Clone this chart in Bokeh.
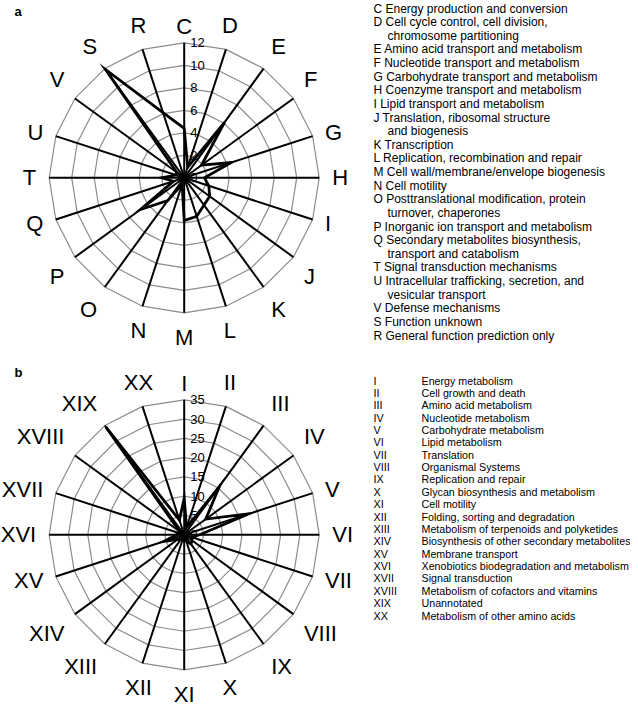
import numpy as np
from bokeh.plotting import figure
from bokeh.models import Range1d
from bokeh.embed import file_html
from bokeh.resources import INLINE
from bokeh.core.properties import value

# ---------------- data: panel a (COG categories) ----------------
cog_codes = ["C", "D", "E", "F", "G", "H", "I", "J", "K", "L",
             "M", "N", "O", "P", "Q", "T", "U", "V", "S", "R"]
cog_values = [4.4, 1.0, 6.1, 1.9, 4.4, 1.8, 2.3, 2.8, 3.0, 3.6,
              3.8, 0.6, 2.5, 4.8, 1.0, 2.0, 0.8, 0.8, 11.9, 6.1]
cog_ticks = [0, 2, 4, 6, 8, 10, 12]
cog_legend_lines = [
    "C  Energy production and conversion",
    "D Cell cycle control, cell division,",
    "chromosome partitioning",
    "E Amino acid transport and metabolism",
    "F Nucleotide transport and metabolism",
    "G Carbohydrate transport and metabolism",
    "H Coenzyme transport and metabolism",
    "I Lipid transport and metabolism",
    "J Translation, ribosomal structure",
    "and biogenesis",
    "K Transcription",
    "L Replication, recombination and repair",
    "M Cell wall/membrane/envelope biogenesis",
    "N  Cell motility",
    "O Posttranslational modification, protein",
    "turnover, chaperones",
    "P Inorganic ion transport and metabolism",
    "Q  Secondary metabolites biosynthesis,",
    "transport and catabolism",
    "T Signal transduction mechanisms",
    "U  Intracellular trafficking, secretion, and",
    "vesicular transport",
    "V  Defense mechanisms",
    "S  Function unknown",
    "R  General function prediction only",
]
cog_legend_indent = [0, 0, 1, 0, 0, 0, 0, 0, 0, 1, 0, 0, 0, 0, 0, 1, 0, 0, 1, 0, 0, 1, 0, 0, 0]

# ---------------- data: panel b (KEGG categories) ----------------
kegg_codes = ["I", "II", "III", "IV", "V", "VI", "VII", "VIII", "IX", "X",
              "XI", "XII", "XIII", "XIV", "XV", "XVI", "XVII", "XVIII", "XIX", "XX"]
kegg_values = [9.5, 2.0, 15.6, 6.9, 17.7, 4.0, 2.0, 2.5, 3.0, 1.5,
               1.5, 1.0, 1.5, 2.0, 5.5, 2.0, 1.5, 1.5, 34.5, 4.0]
kegg_ticks = [0, 5, 10, 15, 20, 25, 30, 35]
kegg_legend_texts = [
    "Energy metabolism", "Cell growth and death", "Amino acid metabolism",
    "Nucleotide metabolism", "Carbohydrate metabolism", "Lipid metabolism",
    "Translation", "Organismal Systems", "Replication and repair",
    "Glycan biosynthesis and metabolism", "Cell motility",
    "Folding, sorting and degradation", "Metabolism of terpenoids and polyketides",
    "Biosynthesis of other secondary metabolites", "Membrane transport",
    "Xenobiotics biodegradation and metabolism", "Signal transduction",
    "Metabolism of cofactors and vitamins", "Unannotated",
    "Metabolism of other amino acids",
]

FONT = "Liberation Sans"
# Arial-like advance widths (em) for label placement
ADV = {"A": .667, "B": .667, "C": .722, "D": .722, "E": .667, "F": .611, "G": .778,
       "H": .722, "I": .278, "J": .5, "K": .667, "L": .556, "M": .833, "N": .722,
       "O": .778, "P": .667, "Q": .778, "R": .722, "S": .667, "T": .611, "U": .722,
       "V": .667, "W": .944, "X": .667}

W, H = 630, 710
p = figure(width=W, height=H, output_backend="svg", toolbar_location=None,
           x_range=Range1d(0, W), y_range=Range1d(H, 0), min_border=0)
p.axis.visible = False
p.grid.visible = False
p.outline_line_color = None
p.background_fill_color = "white"
p.border_fill_color = "white"


def radar(codes, vals, ticks, cx, cy, R=135.0):
    n = len(codes)
    th = 2 * np.pi * np.arange(n) / n
    s, c = np.sin(th), np.cos(th)
    vmax = ticks[-1]
    k = R / vmax
    # rings
    for t in ticks[1:]:
        xs = list(cx + t * k * s) + [cx + t * k * s[0]]
        ys = list(cy - t * k * c) + [cy - t * k * c[0]]
        p.line(xs, ys, line_color="#8c8c8c", line_width=1.2)
    # spokes
    p.segment(x0=[cx] * n, y0=[cy] * n, x1=list(cx + R * s), y1=list(cy - R * c),
              line_color="black", line_width=2)
    # data polygon
    v = np.array(vals, dtype=float)
    p.patch(list(cx + v * k * s), list(cy - v * k * c), fill_color=None,
            line_color="black", line_width=2.8, line_join="miter")
    # tick labels
    p.text(x=[cx + 6] * len(ticks), y=[cy - t * k for t in ticks],
           text=[str(t) for t in ticks], text_font=value(FONT), text_font_size="13px",
           text_align="left", text_baseline="middle", text_color="black")
    # category labels
    rp, hh, fs = 148.0, 11.5, 22.0
    lx, ly = [], []
    for i, code in enumerate(codes):
        w = sum(ADV[ch] for ch in code) * fs
        fx = 0 if abs(s[i]) < 0.4 else np.sign(s[i])
        fy = 0 if abs(c[i]) < 0.4 else np.sign(c[i])
        x = cx + rp * s[i] + fx * w / 2
        y = cy - rp * c[i] - fy * hh
        if i == 0:
            y = cy - rp - 3.7
        lx.append(x)
        ly.append(y)
    p.text(x=lx, y=ly, text=codes, text_font=value(FONT), text_font_size="22px",
           text_align="center", text_baseline="middle", text_color="black")


radar(cog_codes, cog_values, cog_ticks, 183.7, 177.3)
radar(kegg_codes, kegg_values, kegg_ticks, 183.7, 534.3)

# panel letters
p.text(x=[14, 14], y=[11, 372], text=["a", "b"], text_font=value(FONT),
       text_font_size="13px", text_font_style="bold", text_align="left",
       text_baseline="middle", text_color="black")

# legend a
ya = [8 + 13.63 * i for i in range(len(cog_legend_lines))]
xa = [387 if ind else 373 for ind in cog_legend_indent]
p.text(x=xa, y=ya, text=cog_legend_lines, text_font=value(FONT), text_font_size="12px",
       text_align="left", text_baseline="middle", text_color="black")

# legend b
yb = [380 + 12.37 * i for i in range(len(kegg_codes))]
p.text(x=[373] * len(kegg_codes), y=yb, text=kegg_codes, text_font=value(FONT),
       text_font_size="10.8px", text_align="left", text_baseline="middle", text_color="black")
p.text(x=[421] * len(kegg_codes), y=yb, text=kegg_legend_texts, text_font=value(FONT),
       text_font_size="10.7px", text_align="left", text_baseline="middle", text_color="black")

open("out.html", "w").write(file_html(p, INLINE))
